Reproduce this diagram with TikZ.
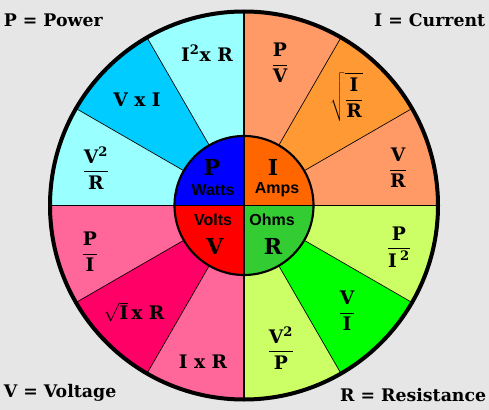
\documentclass[tikz,border=0pt]{standalone}
\usepackage{fontspec}
\setmainfont{DejaVu Serif}
\newfontfamily\unitfont{Liberation Sans}

\definecolor{bggray}{HTML}{E6E6E6}
\definecolor{pwlight}{HTML}{99FFFF}
\definecolor{pwdark}{HTML}{00CCFF}
\definecolor{pwcore}{HTML}{0000FF}
\definecolor{cflight}{HTML}{FF9966}
\definecolor{cfdark}{HTML}{FF9933}
\definecolor{cfcore}{HTML}{FF6600}
\definecolor{vtlight}{HTML}{FF6699}
\definecolor{vtdark}{HTML}{FF0066}
\definecolor{vtcore}{HTML}{FF0000}
\definecolor{rslight}{HTML}{CCFF66}
\definecolor{rsdark}{HTML}{00FF00}
\definecolor{rscore}{HTML}{33CC33}

\newcommand{\ohmfrac}[2]{$\displaystyle\frac{\mbox{#1}}{\mbox{#2}}$}
\newcommand{\sqtwo}{\textsuperscript{2}}

\tikzset{every picture/.style={line width=0.75pt}}
\tikzset{
  formula/.style={font=\fontsize{14}{16}\selectfont\bfseries, inner sep=1pt},
  quantity/.style={font=\fontsize{16.5}{18}\selectfont\bfseries, inner sep=1pt},
  unitname/.style={font=\unitfont\fontsize{12}{14}\selectfont\bfseries, inner sep=1pt},
  legend/.style={font=\fontsize{13}{15}\selectfont\bfseries, inner sep=1pt},
}

\begin{document}
\begin{tikzpicture}[x=0.75pt,y=0.75pt,yscale=-1,xscale=1]
  \fill[bggray] (0,0) rectangle (489,410);
  \useasboundingbox (0,0) rectangle (489,410);

  % wheel, angles counted as seen
  \begin{scope}[shift={(244,205.5)}, yscale=-1]
    \foreach \a/\col in {0/cflight, 30/cfdark, 60/cflight,
                         90/pwlight, 120/pwdark, 150/pwlight,
                         180/vtlight, 210/vtdark, 240/vtlight,
                         270/rslight, 300/rsdark, 330/rslight}
      \fill[\col] (0,0) -- (\a:194) arc (\a:\a+30:194) -- cycle;
    \foreach \a in {30,60,...,330}
      \draw[line width=0.5pt] (0,0) -- (\a:194);
    \foreach \a/\col in {0/cfcore, 90/pwcore, 180/vtcore, 270/rscore}
      \fill[\col] (0,0) -- (\a:69.5) arc (\a:\a+90:69.5) -- cycle;
    \draw[line width=1pt] (-194,0) -- (194,0) (0,-194) -- (0,194);
    \draw[line width=1.6pt] (0,0) circle (69.5);
    \draw[line width=3pt] (0,0) circle (194);
  \end{scope}

  % power
  \node[formula] (pisqr) at (207,53) {I\sqtwo x R};
  \node[formula] (pvi) at (137,100) {V x I};
  \node[formula] (pvsqr) at (96,168) {\ohmfrac{V\sqtwo}{R}};
  % current
  \node[formula] (ipv) at (280,63) {\ohmfrac{P}{V}};
  \node[formula] (iroot) at (347,97) {$\sqrt{\displaystyle\frac{\mbox{I}}{\mbox{R}}}$};
  \node[formula] (ivr) at (398,168) {\ohmfrac{V}{R}};
  % voltage
  \node[formula] (vpi) at (90,252) {\ohmfrac{P}{I}};
  \node[formula] (vroot) at (134,312) {$\sqrt{\mbox{I}}$\,x R};
  \node[formula] (vir) at (203,362) {I x R};
  % resistance
  \node[formula] (rpi) at (399,247) {\ohmfrac{P}{I\,\sqtwo}};
  \node[formula] (rvi) at (347,311) {\ohmfrac{V}{I}};
  \node[formula] (rvp) at (281,348) {\ohmfrac{V\sqtwo}{P}};

  % centre
  \node[quantity] (cp) at (212,167) {P};
  \node[unitname] (cwatts) at (213,190) {Watts};
  \node[quantity] (ci) at (273,167) {I};
  \node[unitname] (camps) at (277,190) {Amps};
  \node[unitname] (cvolts) at (213,220) {Volts};
  \node[quantity] (cv) at (215,246) {V};
  \node[unitname] (cohms) at (272,220) {Ohms};
  \node[quantity] (cr) at (273,246) {R};

  % legend
  \node[legend, anchor=west] (lpower) at (2,20) {P = Power};
  \node[legend, anchor=east] (lcurrent) at (487,20) {I = Current};
  \node[legend, anchor=west] (lvoltage) at (2,393) {V = Voltage};
  \node[legend, anchor=east] (lresist) at (488,395) {R = Resistance};
\end{tikzpicture}
\end{document}
